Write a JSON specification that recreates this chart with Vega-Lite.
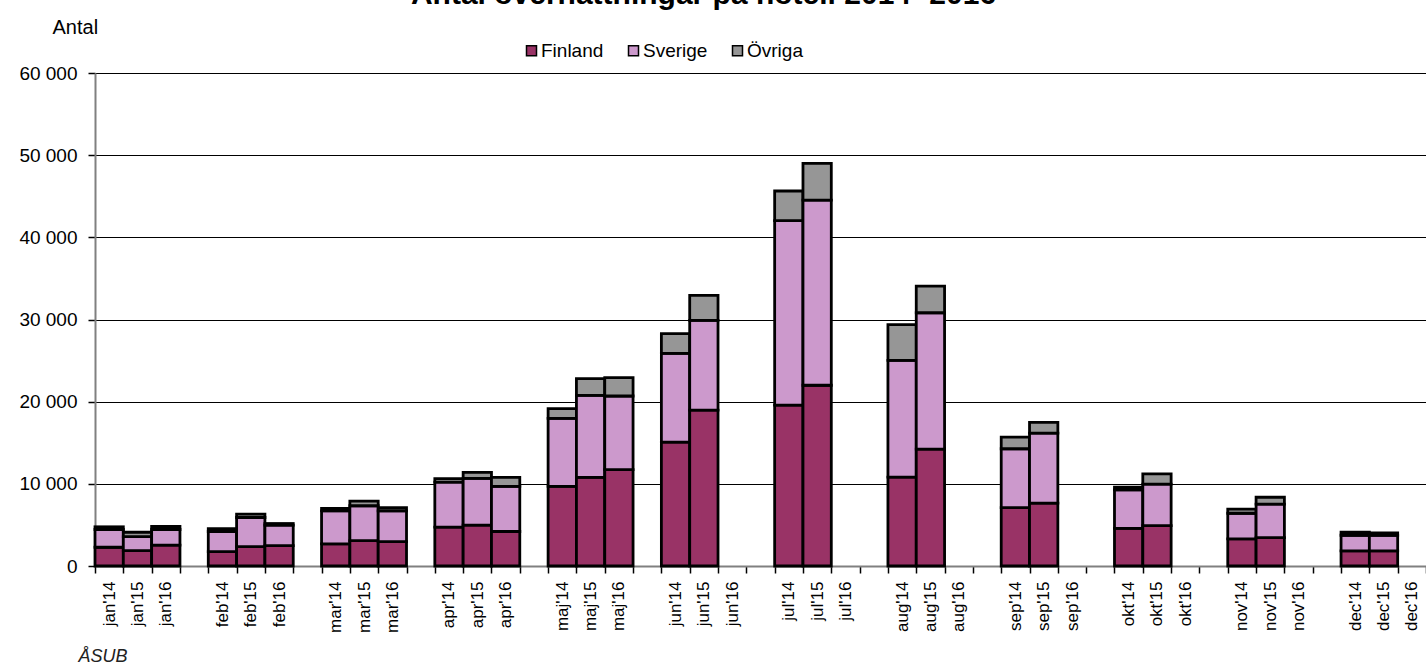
{
  "$schema": "https://vega.github.io/schema/vega-lite/v6.json",
  "autosize": {"type": "none"},
  "width": 1331,
  "height": 493,
  "padding": {"left": 95, "top": 73, "right": 0, "bottom": 98},
  "background": "white",
  "title": {
    "text": "Antal övernattningar på hotell 2014- 2016",
    "font": "Liberation Sans",
    "fontSize": 30,
    "fontWeight": "bold",
    "color": "black",
    "anchor": "middle",
    "frame": "group",
    "dx": -57,
    "baseline": "alphabetic",
    "offset": -17
  },
  "config": {"view": {"stroke": null}, "font": "Liberation Sans"},
  "data": {
    "values": [
      {"period": "jan'14", "land": "Finland", "antal": 2280},
      {"period": "jan'14", "land": "Sverige", "antal": 2160},
      {"period": "jan'14", "land": "Övriga", "antal": 330},
      {"period": "jan'15", "land": "Finland", "antal": 1870},
      {"period": "jan'15", "land": "Sverige", "antal": 1710},
      {"period": "jan'15", "land": "Övriga", "antal": 530},
      {"period": "jan'16", "land": "Finland", "antal": 2530},
      {"period": "jan'16", "land": "Sverige", "antal": 1910},
      {"period": "jan'16", "land": "Övriga", "antal": 370},
      {"period": "feb'14", "land": "Finland", "antal": 1750},
      {"period": "feb'14", "land": "Sverige", "antal": 2450},
      {"period": "feb'14", "land": "Övriga", "antal": 360},
      {"period": "feb'15", "land": "Finland", "antal": 2360},
      {"period": "feb'15", "land": "Sverige", "antal": 3540},
      {"period": "feb'15", "land": "Övriga", "antal": 410},
      {"period": "feb'16", "land": "Finland", "antal": 2480},
      {"period": "feb'16", "land": "Sverige", "antal": 2490},
      {"period": "feb'16", "land": "Övriga", "antal": 200},
      {"period": "mar'14", "land": "Finland", "antal": 2690},
      {"period": "mar'14", "land": "Sverige", "antal": 4030},
      {"period": "mar'14", "land": "Övriga", "antal": 290},
      {"period": "mar'15", "land": "Finland", "antal": 3100},
      {"period": "mar'15", "land": "Sverige", "antal": 4230},
      {"period": "mar'15", "land": "Övriga", "antal": 570},
      {"period": "mar'16", "land": "Finland", "antal": 2970},
      {"period": "mar'16", "land": "Sverige", "antal": 3750},
      {"period": "mar'16", "land": "Övriga", "antal": 370},
      {"period": "apr'14", "land": "Finland", "antal": 4730},
      {"period": "apr'14", "land": "Sverige", "antal": 5490},
      {"period": "apr'14", "land": "Övriga", "antal": 410},
      {"period": "apr'15", "land": "Finland", "antal": 4970},
      {"period": "apr'15", "land": "Sverige", "antal": 5700},
      {"period": "apr'15", "land": "Övriga", "antal": 730},
      {"period": "apr'16", "land": "Finland", "antal": 4200},
      {"period": "apr'16", "land": "Sverige", "antal": 5490},
      {"period": "apr'16", "land": "Övriga", "antal": 1100},
      {"period": "maj'14", "land": "Finland", "antal": 9700},
      {"period": "maj'14", "land": "Sverige", "antal": 8260},
      {"period": "maj'14", "land": "Övriga", "antal": 1190},
      {"period": "maj'15", "land": "Finland", "antal": 10790},
      {"period": "maj'15", "land": "Sverige", "antal": 9980},
      {"period": "maj'15", "land": "Övriga", "antal": 2030},
      {"period": "maj'16", "land": "Finland", "antal": 11730},
      {"period": "maj'16", "land": "Sverige", "antal": 8960},
      {"period": "maj'16", "land": "Övriga", "antal": 2230},
      {"period": "jun'14", "land": "Finland", "antal": 15070},
      {"period": "jun'14", "land": "Sverige", "antal": 10810},
      {"period": "jun'14", "land": "Övriga", "antal": 2400},
      {"period": "jun'15", "land": "Finland", "antal": 18970},
      {"period": "jun'15", "land": "Sverige", "antal": 10930},
      {"period": "jun'15", "land": "Övriga", "antal": 3040},
      {"period": "jul'14", "land": "Finland", "antal": 19580},
      {"period": "jul'14", "land": "Sverige", "antal": 22450},
      {"period": "jul'14", "land": "Övriga", "antal": 3610},
      {"period": "jul'15", "land": "Finland", "antal": 22000},
      {"period": "jul'15", "land": "Sverige", "antal": 22540},
      {"period": "jul'15", "land": "Övriga", "antal": 4460},
      {"period": "aug'14", "land": "Finland", "antal": 10810},
      {"period": "aug'14", "land": "Sverige", "antal": 14220},
      {"period": "aug'14", "land": "Övriga", "antal": 4350},
      {"period": "aug'15", "land": "Finland", "antal": 14230},
      {"period": "aug'15", "land": "Sverige", "antal": 16590},
      {"period": "aug'15", "land": "Övriga", "antal": 3230},
      {"period": "sep'14", "land": "Finland", "antal": 7110},
      {"period": "sep'14", "land": "Sverige", "antal": 7160},
      {"period": "sep'14", "land": "Övriga", "antal": 1420},
      {"period": "sep'15", "land": "Finland", "antal": 7640},
      {"period": "sep'15", "land": "Sverige", "antal": 8540},
      {"period": "sep'15", "land": "Övriga", "antal": 1300},
      {"period": "okt'14", "land": "Finland", "antal": 4590},
      {"period": "okt'14", "land": "Sverige", "antal": 4680},
      {"period": "okt'14", "land": "Övriga", "antal": 320},
      {"period": "okt'15", "land": "Finland", "antal": 4920},
      {"period": "okt'15", "land": "Sverige", "antal": 5040},
      {"period": "okt'15", "land": "Övriga", "antal": 1260},
      {"period": "nov'14", "land": "Finland", "antal": 3290},
      {"period": "nov'14", "land": "Sverige", "antal": 3130},
      {"period": "nov'14", "land": "Övriga", "antal": 490},
      {"period": "nov'15", "land": "Finland", "antal": 3460},
      {"period": "nov'15", "land": "Sverige", "antal": 4060},
      {"period": "nov'15", "land": "Övriga", "antal": 850},
      {"period": "dec'14", "land": "Finland", "antal": 1830},
      {"period": "dec'14", "land": "Sverige", "antal": 1910},
      {"period": "dec'14", "land": "Övriga", "antal": 370},
      {"period": "dec'15", "land": "Finland", "antal": 1830},
      {"period": "dec'15", "land": "Sverige", "antal": 1910},
      {"period": "dec'15", "land": "Övriga", "antal": 290}
    ]
  },
  "mark": {"type": "bar", "stroke": "black", "strokeWidth": 2.8},
  "encoding": {
    "x": {
      "field": "period",
      "type": "nominal",
      "scale": {
        "domain": ["jan'14", "jan'15", "jan'16", "_1", "feb'14", "feb'15", "feb'16", "_2", "mar'14", "mar'15", "mar'16", "_3", "apr'14", "apr'15", "apr'16", "_4", "maj'14", "maj'15", "maj'16", "_5", "jun'14", "jun'15", "jun'16", "_6", "jul'14", "jul'15", "jul'16", "_7", "aug'14", "aug'15", "aug'16", "_8", "sep'14", "sep'15", "sep'16", "_9", "okt'14", "okt'15", "okt'16", "_10", "nov'14", "nov'15", "nov'16", "_11", "dec'14", "dec'15", "dec'16"],
        "paddingInner": 0,
        "paddingOuter": 0
      },
      "axis": {
        "title": "ÅSUB",
        "titleFont": "Liberation Sans",
        "titleFontStyle": "italic",
        "titleFontWeight": "normal",
        "titleFontSize": 18,
        "titleColor": "#222222",
        "titleAlign": "left",
        "titleBaseline": "alphabetic",
        "titleX": -17,
        "titleY": 95,
        "labelAngle": 270,
        "labelFontSize": 17,
        "labelColor": "black",
        "labelPadding": 8,
        "labelOverlap": false,
        "labelExpr": "indexof(datum.label, '_') === 0 ? '' : datum.label",
        "tickBand": "extent",
        "tickSize": 7,
        "tickColor": "black",
        "tickWidth": 1.5,
        "domainColor": "#808080",
        "domainWidth": 2,
        "grid": false
      }
    },
    "y": {
      "field": "antal",
      "type": "quantitative",
      "stack": "zero",
      "scale": {"domain": [0, 60000], "nice": false},
      "axis": {
        "values": [0, 10000, 20000, 30000, 40000, 50000, 60000],
        "labelExpr": "replace(format(datum.value, ','), ',', ' ')",
        "labelFontSize": 19,
        "labelColor": "black",
        "labelPadding": 11,
        "tickSize": 7,
        "tickColor": "black",
        "tickWidth": 1.5,
        "domainColor": "#808080",
        "domainWidth": 2,
        "gridColor": "black",
        "gridWidth": 1,
        "title": "Antal",
        "titleAngle": 0,
        "titleFontSize": 20,
        "titleFontWeight": "normal",
        "titleColor": "black",
        "titleAlign": "left",
        "titleBaseline": "alphabetic",
        "titleX": -43,
        "titleY": -40
      }
    },
    "order": {"field": "land", "type": "nominal", "sort": "ascending"},
    "color": {
      "field": "land",
      "type": "nominal",
      "scale": {"domain": ["Finland", "Sverige", "Övriga"], "range": ["#993366", "#CC99CC", "#969696"]},
      "legend": {
        "title": null,
        "orient": "none",
        "direction": "horizontal",
        "legendX": 427,
        "legendY": -32,
        "symbolType": "square",
        "symbolSize": 100,
        "symbolStrokeColor": "black",
        "symbolStrokeWidth": 1.5,
        "labelFontSize": 19,
        "labelColor": "black",
        "labelOffset": 0,
        "columnPadding": 20
      }
    }
  }
}
